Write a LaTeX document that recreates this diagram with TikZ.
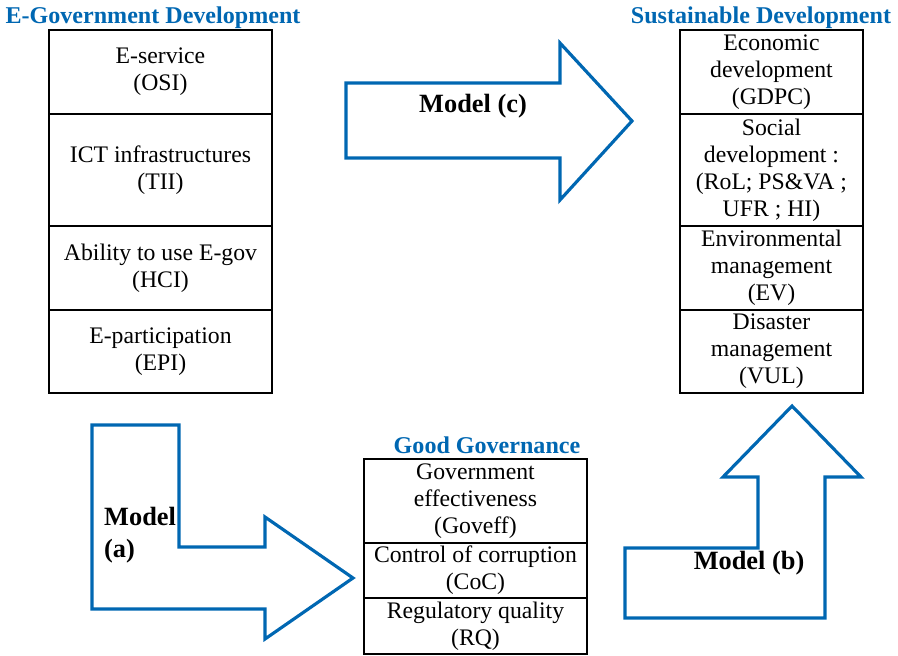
\documentclass[tikz,border=0pt]{standalone}
\usepackage{fontspec}
\setmainfont{Liberation Serif}
\usetikzlibrary{positioning}
\definecolor{govblue}{RGB}{0,103,178}

\begin{document}
\begin{tikzpicture}[x=0.02cm,y=-0.02cm,
    cell/.style={draw,line width=0.7pt,inner sep=0pt,outer sep=0pt,
      align=center,font=\fontsize{13.5}{15.4}\selectfont},
    wide/.style={cell,minimum width=4.46cm},
    narrow/.style={cell,minimum width=3.66cm},
    heading/.style={text=govblue,font=\fontsize{13.7}{16}\selectfont\bfseries},
    model/.style={font=\fontsize{15}{18.5}\selectfont\bfseries},
    bigarrow/.style={draw=govblue,line width=1.8pt,fill=white,line join=miter}]
\useasboundingbox (0,0) rectangle (898,655);

% block arrows between the three groups
  \draw[bigarrow]
    (346,83) -- (560,83) -- (560,43) -- (632,121)
    -- (560,200) -- (560,158) -- (346,158) -- cycle;
  \draw[bigarrow]
    (92,425) -- (179,425) -- (179,547) -- (265,547) -- (265,517)
    -- (353,578) -- (265,639) -- (265,609) -- (92,609) -- cycle;
  \draw[bigarrow]
    (625,548) -- (758,548) -- (758,477) -- (723,477) -- (792,406)
    -- (861,477) -- (825,477) -- (825,618) -- (625,618) -- cycle;

  \node[model] (modelc) at (473,106) {Model (c)};
  \node[model,align=left,anchor=west] (modela) at (98,535) {Model\\(a)};
  \node[model] (modelb) at (749,563) {Model (b)};

% e-government development
  \node[heading] (egovtitle) at (153,18) {E-Government Development};
  \node[wide,minimum height=1.68cm,anchor=north west] (osi) at (49,30)
    {E-service\\(OSI)};
  \node[wide,minimum height=2.24cm,below=0pt of osi] (tii)
    {ICT infrastructures\\(TII)};
  \node[wide,minimum height=1.68cm,below=0pt of tii] (hci)
    {Ability to use E-gov\\(HCI)};
  \node[wide,minimum height=1.66cm,below=0pt of hci] (epi)
    {E-participation\\(EPI)};

% sustainable development
  \node[heading] (sdtitle) at (761,18) {Sustainable Development};
  \node[narrow,minimum height=1.68cm,anchor=north west] (gdpc) at (680,30)
    {Economic\\development\\(GDPC)};
  \node[narrow,minimum height=2.24cm,below=0pt of gdpc] (social)
    {Social\\development :\\(RoL; PS\&VA ;\\UFR ; HI)};
  \node[narrow,minimum height=1.68cm,below=0pt of social] (ev)
    {Environmental\\management\\(EV)};
  \node[narrow,minimum height=1.66cm,below=0pt of ev] (vul)
    {Disaster\\management\\(VUL)};

% good governance
  \node[heading] (ggtitle) at (487,445) {Good Governance};
  \node[wide,minimum height=1.68cm,anchor=north west] (goveff) at (364,459)
    {Government\\effectiveness\\(Goveff)};
  \node[wide,minimum height=1.1cm,below=0pt of goveff] (coc)
    {Control of corruption\\(CoC)};
  \node[wide,minimum height=1.12cm,below=0pt of coc] (rq)
    {Regulatory quality\\(RQ)};
\end{tikzpicture}
\end{document}
